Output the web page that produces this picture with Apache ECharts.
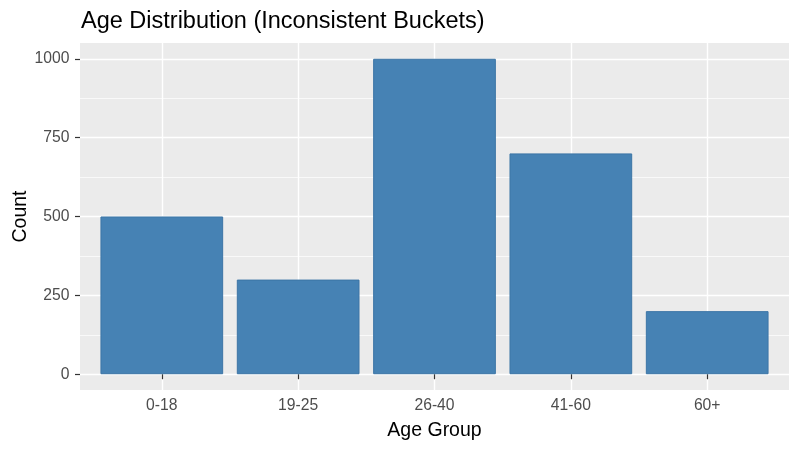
<!DOCTYPE html>
<html>
<head>
<meta charset="utf-8">
<script src="https://cdn.jsdelivr.net/npm/echarts@6/dist/echarts.min.js"></script>
<style>
  html, body { margin: 0; padding: 0; background: #fff; }
  #chart { width: 800px; height: 451px; }
</style>
</head>
<body>
<div id="chart"></div>
<script>
const categories = ['0-18', '19-25', '26-40', '41-60', '60+']
const counts = [500, 300, 1000, 700, 200]
const yTicks = [0, 250, 500, 750, 1000]

// ggplot-like panel geometry
const panel = { left: 80, top: 43, right: 789, bottom: 390 }
const pw = panel.right - panel.left
const ph = panel.bottom - panel.top
// discrete axis: 0.6 expansion each side
const band = pw / (categories.length - 1 + 1.2)
// continuous axis: 5% expansion each side
const yRange = yTicks[yTicks.length - 1] - yTicks[0]
const yPad = (ph / (1 + 0.1)) * 0.05

const chart = echarts.init(document.getElementById('chart'))
chart.setOption({
  animation: false,
  backgroundColor: '#ffffff',
  textStyle: { fontFamily: 'Liberation Sans, Arial, sans-serif' },
  title: {
    text: 'Age Distribution (Inconsistent Buckets)',
    left: panel.left + 1,
    top: 10,
    padding: 0,
    textStyle: { fontSize: 23.5, fontWeight: 'normal', color: '#000000' }
  },
  graphic: {
    z: -10,
    elements: [{
      type: 'rect',
      silent: true,
      z: -10,
      shape: { x: panel.left, y: panel.top, width: pw, height: ph },
      style: { fill: '#EBEBEB' }
    }]
  },
  grid: [
    {
      // horizontal grid lines + y labels, exact 0..1000 range
      left: panel.left,
      top: panel.top + yPad,
      width: pw,
      height: ph - 2 * yPad,
      outerBoundsMode: 'none'
    },
    {
      // bars, full panel height
      left: panel.left + 0.1 * band,
      top: panel.top,
      width: band * categories.length,
      height: ph,
      outerBoundsMode: 'none'
    }
  ],
  xAxis: [
    { gridIndex: 0, type: 'value', min: 0, max: 1, show: false },
    {
      gridIndex: 1,
      type: 'category',
      data: categories,
      axisLine: { show: false },
      axisTick: { show: true, inside: false, alignWithLabel: true, length: 5, lineStyle: { color: '#333333', width: 1.2 } },
      axisLabel: { color: '#4D4D4D', fontSize: 15.7, margin: 8 },
      splitLine: { show: true, alignWithLabel: true, lineStyle: { color: '#ffffff', width: 1.4 } },
      name: 'Age Group',
      nameLocation: 'middle',
      nameGap: 31,
      nameTextStyle: { color: '#000000', fontSize: 19.5 }
    }
  ],
  yAxis: [
    {
      gridIndex: 0,
      type: 'value',
      min: yTicks[0],
      max: yTicks[yTicks.length - 1],
      interval: 250,
      axisLine: { show: false },
      axisTick: { show: true, inside: false, length: 5, lineStyle: { color: '#333333', width: 1.2 } },
      axisLabel: { color: '#4D4D4D', fontSize: 15.7, margin: 10.5, formatter: v => String(v) },
      splitLine: { show: true, lineStyle: { color: '#ffffff', width: 1.4 } },
      minorTick: { show: false, splitNumber: 2 },
      minorSplitLine: { show: true, lineStyle: { color: '#ffffff', width: 0.7 } },
      name: 'Count',
      nameLocation: 'middle',
      nameGap: 49,
      nameMoveOverlap: false,
      nameTextStyle: { color: '#000000', fontSize: 19.5 }
    },
    {
      gridIndex: 1,
      type: 'value',
      min: yTicks[0] - yRange * 0.05,
      max: yTicks[yTicks.length - 1] + yRange * 0.05,
      show: false
    }
  ],
  series: [{
    type: 'bar',
    xAxisIndex: 1,
    yAxisIndex: 1,
    data: counts,
    barWidth: '90%',
    itemStyle: { color: '#4682B4', borderColor: '#3c75a6', borderWidth: 1, borderRadius: 0 }
  }]
})
</script>
</body>
</html>
